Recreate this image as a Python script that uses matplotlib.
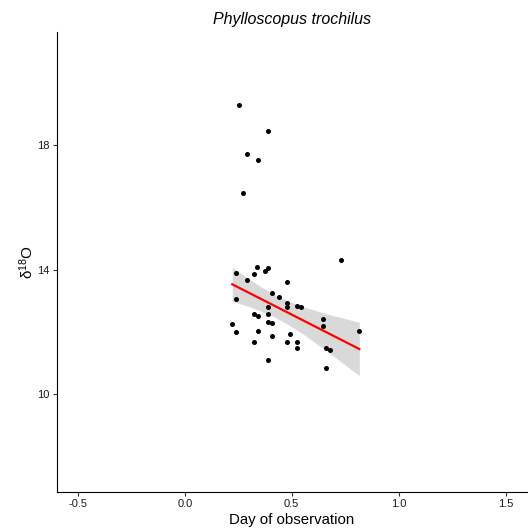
"""Phylloscopus trochilus: d18O against day of observation, with a linear fit and 95% band."""

import matplotlib

matplotlib.use("Agg")
import matplotlib.pyplot as plt
import numpy as np

plt.rcParams["font.family"] = ["Liberation Sans", "DejaVu Sans"]
plt.rcParams["mathtext.fontset"] = "custom"
plt.rcParams["mathtext.rm"] = "Liberation Sans"
plt.rcParams["mathtext.it"] = "Liberation Sans:italic"

TITLE = "Phylloscopus trochilus"
X_LABEL = "Day of observation"
Y_LABEL = r"$\mathrm{\delta}^{18}$O"
X_TICKS = [-0.5, 0.0, 0.5, 1.0, 1.5]
Y_TICKS = [10, 14, 18]

day = [0.238, 0.339, 0.391, 0.374, 0.324, 0.290, 0.477, 0.730, 0.238, 0.408,
       0.442, 0.477, 0.477, 0.526, 0.543, 0.391, 0.324, 0.341, 0.391, 0.222,
       0.238, 0.391, 0.408, 0.646, 0.646, 0.341, 0.493, 0.408, 0.816, 0.324,
       0.477, 0.526, 0.526, 0.662, 0.679, 0.391, 0.662,
       0.255, 0.391, 0.290, 0.341, 0.271]
d18o = [13.89, 14.10, 14.07, 13.96, 13.87, 13.66, 13.61, 14.32, 13.06, 13.25,
        13.14, 12.93, 12.81, 12.85, 12.81, 12.81, 12.58, 12.52, 12.57, 12.25,
        12.00, 12.33, 12.29, 12.41, 12.19, 12.04, 11.95, 11.88, 12.04, 11.69,
        11.67, 11.69, 11.50, 11.50, 11.43, 11.11, 10.84,
        19.30, 18.45, 17.72, 17.53, 16.46]

# linear smooth and its confidence band
fit_intercept = 14.31
fit_slope = -3.50
band_day = [0.222, 0.30, 0.36, 0.42, 0.48, 0.55, 0.68, 0.75, 0.816]
band_lo = [12.99, 12.82, 12.66, 12.48, 12.25, 11.95, 11.31, 10.94, 10.60]
band_hi = [14.08, 13.70, 13.44, 13.20, 13.01, 12.82, 12.55, 12.43, 12.31]

fig = plt.figure(figsize=(5.28, 5.29), dpi=100)
ax = fig.add_axes([56.5 / 528, 1 - 492 / 529, (527 - 56.5) / 528, (492 - 32) / 529])
ax.fill_between(band_day, band_lo, band_hi, color="#d9d9d9", lw=0, zorder=1)
line_x = np.array([band_day[0], band_day[-1]])
ax.plot(line_x, fit_intercept + fit_slope * line_x, color="red", lw=1.6, zorder=2)
ax.scatter(day, d18o, s=13, color="black", lw=0, zorder=3)

ax.set_xlim(-0.6, 1.6)
ax.set_ylim(6.86, 21.64)
ax.set_xticks(X_TICKS)
ax.set_xticklabels([f"{v:.1f}" for v in X_TICKS])
ax.set_yticks(Y_TICKS)
ax.set_yticklabels([str(v) for v in Y_TICKS])
for side in ("top", "right"):
    ax.spines[side].set_visible(False)
for side in ("left", "bottom"):
    ax.spines[side].set_color("black")
    ax.spines[side].set_linewidth(0.8)
ax.tick_params(length=3, width=0.8, color="#333333", labelsize=8, labelcolor="#1a1a1a", pad=2)
ax.set_xlabel(X_LABEL, fontsize=10.8, labelpad=3)
ax.set_ylabel(Y_LABEL, fontsize=11, labelpad=1)
ax.set_title(TITLE, fontsize=11.5, style="italic", pad=6)

fig.savefig("out.png", dpi=100)
